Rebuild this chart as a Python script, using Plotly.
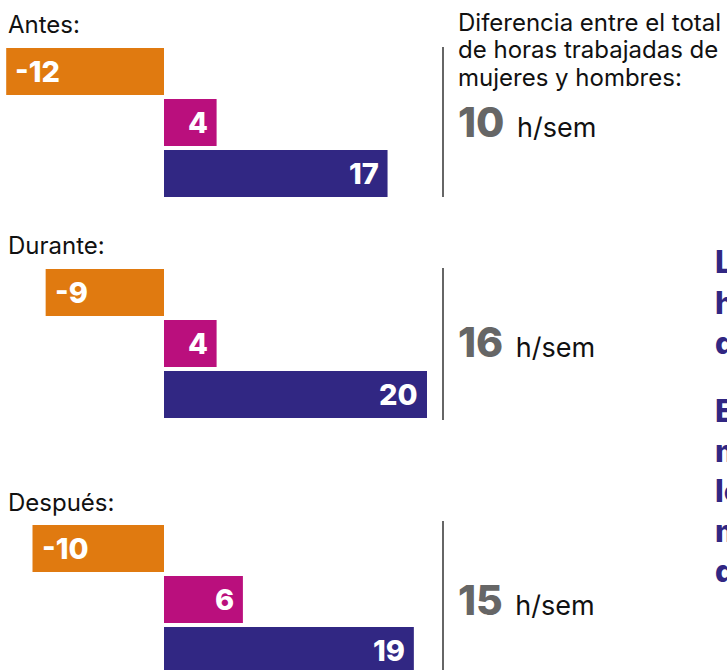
import plotly.graph_objects as go

# ---- data ----
periodos = ["Antes:", "Durante:", "Después:"]
serie_naranja = [-12, -9, -10]
serie_magenta = [4, 4, 6]
serie_azul = [17, 20, 19]
diferencia = [10, 16, 15]
nota_titulo = ["Diferencia entre el total", "de horas trabajadas de", "mujeres y hombres:"]
unidad = "h/sem"
texto_1 = ["La diferencia en", "horas de trabajo", "de las mujeres creció"]
texto_2 = ["En 2022, las", "mujeres seguían", "lo mismo", "más horas", "de trabajo que ellos"]

# ---- styling ----
C_OR = "#E07A10"
C_MG = "#BA0F7D"
C_BL = "#312783"
GRAY = "#666666"
W, H = 727, 670
FONT = "Inter"

def px(x):
    return x / W

def py(y):
    return 1 - y / H

zero_px = 164
scale = 13.15  # px per unit
xrange = [-zero_px / scale, (W - zero_px) / scale]
pitch = 51.0
bar_w = 47.0 / pitch

# top pixel of each panel, centre pixel of first bar, bottom pixel
panels = [(40, 71.5, 200), (262, 292.5, 422), (518, 548.5, 670)]
label_y = [25, 245, 502]
line_y = [(47, 197), (268, 420), (521, 672)]
num_y = [122, 342, 600]

fig = go.Figure()
annotations = []
shapes = []
layout_axes = {}

for i, per in enumerate(periodos):
    k = "" if i == 0 else str(i + 1)
    vals = [serie_naranja[i], serie_magenta[i], serie_azul[i]]
    fig.add_trace(go.Bar(
        x=vals, y=[0, 1, 2], orientation="h", width=bar_w,
        marker=dict(color=[C_OR, C_MG, C_BL], line=dict(width=0)),
        xaxis="x" + k, yaxis="y" + k, hoverinfo="skip", showlegend=False,
    ))
    top, c0, bot = panels[i]
    layout_axes["xaxis" + k] = dict(domain=[0, 1], range=xrange, visible=False,
                                    anchor="y" + k, fixedrange=True)
    layout_axes["yaxis" + k] = dict(domain=[py(bot), py(top)],
                                    range=[(bot - c0) / pitch, (top - c0) / pitch],
                                    visible=False, anchor="x" + k, fixedrange=True)
    for j, v in enumerate(vals):
        annotations.append(dict(
            x=v, y=j, xref="x" + k, yref="y" + k, text=str(v), showarrow=False,
            xanchor="left" if v < 0 else "right", yanchor="middle",
            xshift=7 if v < 0 else -7, yshift=0,
            font=dict(family=FONT, size=29, color="white", weight=800),
        ))
    # period label
    annotations.append(dict(
        x=px(6), y=py(label_y[i]), xref="paper", yref="paper", text=per,
        showarrow=False, xanchor="left", yanchor="middle",
        font=dict(family=FONT, size=24, color="#111111"),
    ))
    # vertical separator
    y0, y1 = line_y[i]
    shapes.append(dict(type="line", xref="paper", yref="paper",
                       x0=px(443), x1=px(443), y0=py(y1), y1=py(y0),
                       line=dict(color="#333333", width=1.5)))
    # difference value
    annotations.append(dict(
        x=px(456), y=py(num_y[i]), xref="paper", yref="paper",
        text=(f"<span style='font-size:41px;color:{GRAY};font-weight:800'>"
              f"{diferencia[i]}</span> \u2009{unidad}"),
        showarrow=False, xanchor="left", yanchor="middle",
        font=dict(family=FONT, size=27, color="#111111"),
    ))

# heading of the note
for j, line in enumerate(nota_titulo):
    annotations.append(dict(
        x=px(456), y=py(22 + 27.5 * j), xref="paper", yref="paper", text=line,
        showarrow=False, xanchor="left", yanchor="middle",
        font=dict(family=FONT, size=24, color="#111111"),
    ))

# cropped side text
for lines, y_first in ((texto_1, 262), (texto_2, 410)):
    for j, line in enumerate(lines):
        annotations.append(dict(
            x=px(713), y=py(y_first + 40 * j), xref="paper", yref="paper",
            text=line, showarrow=False, xanchor="left", yanchor="middle",
            font=dict(family=FONT, size=31, color=C_BL, weight=800),
        ))

fig.update_layout(
    width=W, height=H, margin=dict(l=0, r=0, t=0, b=0),
    paper_bgcolor="white", plot_bgcolor="rgba(0,0,0,0)",
    barmode="overlay", annotations=annotations, shapes=shapes,
    **layout_axes,
)

fig.write_html(
    "out.html",
    config={"displayModeBar": False},
    post_script="document.body.style.margin='0';document.body.style.overflow='hidden';",
)
